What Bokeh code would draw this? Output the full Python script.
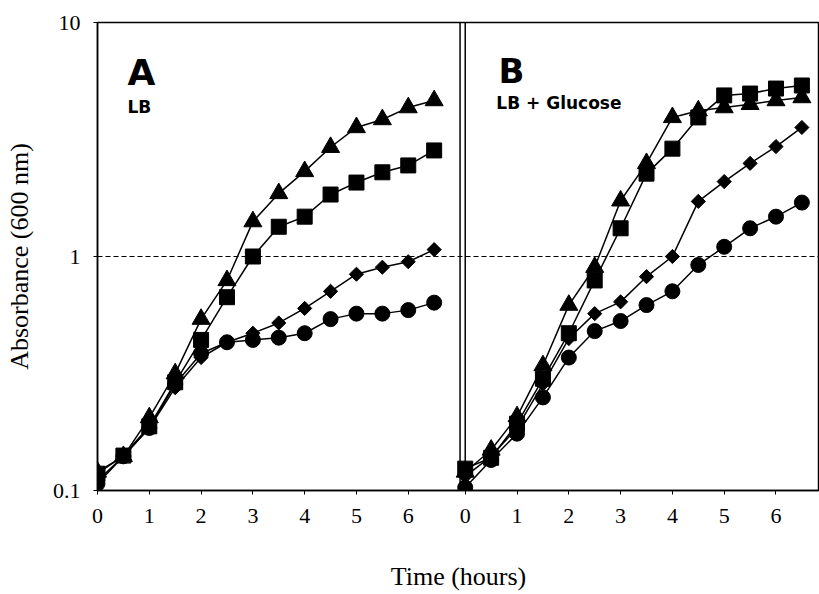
import numpy as np
from bokeh.plotting import figure
from bokeh.models import Range1d, FixedTicker, CustomJSTickFormatter, Span, Label
from bokeh.embed import file_html
from bokeh.resources import INLINE

# ---------------- data ----------------
hours = [0, 0.5, 1, 1.5, 2, 2.5, 3, 3.5, 4, 4.5, 5, 5.5, 6, 6.5]

# Panel A: LB
tri_a = [0.12, 0.14, 0.205, 0.316, 0.54, 0.79, 1.41, 1.86, 2.31, 2.93, 3.56, 3.85, 4.33, 4.64]
sq_a = [0.118, 0.141, 0.188, 0.29, 0.44, 0.67, 1.0, 1.34, 1.48, 1.84, 2.07, 2.29, 2.45, 2.84]
dia_a = [0.11, 0.14, 0.185, 0.275, 0.37, 0.43, 0.47, 0.52, 0.60, 0.71, 0.84, 0.90, 0.95, 1.07]
circ_a = [0.107, 0.14, 0.185, 0.285, 0.385, 0.43, 0.44, 0.45, 0.47, 0.54, 0.57, 0.57, 0.59, 0.635]

# Panel B: LB + Glucose
tri_b = [0.12, 0.149, 0.207, 0.342, 0.62, 0.90, 1.73, 2.5, 3.93, 4.2, 4.33, 4.47, 4.64, 4.78]
sq_b = [0.124, 0.138, 0.193, 0.30, 0.47, 0.79, 1.32, 2.26, 2.89, 3.93, 4.88, 4.97, 5.22, 5.38]
dia_b = [0.115, 0.14, 0.185, 0.285, 0.446, 0.57, 0.64, 0.82, 1.0, 1.72, 2.09, 2.5, 2.95, 3.56]
circ_b = [0.103, 0.135, 0.175, 0.25, 0.37, 0.48, 0.53, 0.62, 0.71, 0.92, 1.1, 1.32, 1.48, 1.70]

hour_ticks = [0, 1, 2, 3, 4, 5, 6]
abs_ticks = [0.1, 1, 10]
title_a, medium_a = "A", "LB"
title_b, medium_b = "B", "LB + Glucose"
y_label = "Absorbance (600 nm)"
x_label = "Time (hours)"

# ---------------- layout constants ----------------
A_END = 7.0      # right edge of panel A (hours)
B_OFF = 7.10     # start of panel B in panel-A hour units
X_END = 13.94    # right edge of the whole frame in panel-A units

SERIF = "Liberation Serif"
SANS = "DejaVu Sans"

p = figure(width=819, height=594, y_axis_type="log",
           x_range=Range1d(0, X_END), y_range=Range1d(0.1, 10),
           output_backend="svg", toolbar_location=None,
           min_border_left=97, min_border_right=0,
           min_border_top=22, min_border_bottom=104)
p.extra_x_ranges = {"b": Range1d(-B_OFF, X_END - B_OFF)}

p.xgrid.visible = False
p.ygrid.visible = False
p.outline_line_color = "black"
p.outline_line_width = 1.5
p.background_fill_color = "white"
p.border_fill_color = "white"

# x axis (shared line, two sets of tick labels)
p.xaxis.ticker = FixedTicker(ticks=hour_ticks + [B_OFF + t for t in hour_ticks])
p.xaxis.formatter = CustomJSTickFormatter(args=dict(off=B_OFF), code="""
    const v = tick > off - 0.5 ? tick - off : tick;
    return String(Math.round(v));
""")
for ax in (p.xaxis[0], p.yaxis[0]):
    ax.major_label_text_font = SERIF
    ax.major_label_text_font_size = "22px"
    ax.major_label_text_color = "black"
    ax.major_tick_out = 4
    ax.major_tick_in = 0
    ax.minor_tick_out = 0
    ax.minor_tick_in = 0
    ax.axis_line_width = 1.5
    ax.axis_line_color = "black"
    ax.major_tick_line_color = "black"
    ax.axis_label_text_font = SERIF
    ax.axis_label_text_font_size = "26px"
    ax.axis_label_text_font_style = "normal"
    ax.axis_label_text_color = "black"
p.xaxis.major_label_standoff = 14
p.xaxis.axis_label = x_label
p.xaxis.axis_label_standoff = 36

p.yaxis.ticker = FixedTicker(ticks=abs_ticks)
p.yaxis.formatter = CustomJSTickFormatter(code="return String(tick);")
p.yaxis.major_label_standoff = 13
p.yaxis.axis_label = y_label
p.yaxis.axis_label_standoff = 16

# reference line at 1 and panel separators
p.add_layout(Span(location=1, dimension="width", line_dash="5 3",
                  line_width=1, line_color="black"))
p.add_layout(Span(location=A_END, dimension="height", line_width=1.5, line_color="black"))
p.add_layout(Span(location=B_OFF, dimension="height", line_width=1.5, line_color="black"))

def series(x, y, marker, size, rname="default", angle=0.0):
    p.line(x, y, line_color="black", line_width=1.5, x_range_name=rname)
    p.scatter(x, y, marker=marker, size=size, angle=angle, fill_color="black",
              line_color="black", x_range_name=rname)

for rname, tri, sq, dia, circ in (("default", tri_a, sq_a, dia_a, circ_a),
                                  ("b", tri_b, sq_b, dia_b, circ_b)):
    series(hours, circ, "circle", 15, rname)
    series(hours, dia, "square", 10, rname, angle=np.pi / 4)
    series(hours, sq, "square", 15, rname)
    series(hours, tri, "triangle", 18, rname)

# panel titles
p.add_layout(Label(x=0.58, y=6.12, text=title_a, text_font=SANS, text_font_style="bold",
                   text_font_size="36px", text_baseline="alphabetic", text_color="black"))
p.add_layout(Label(x=0.58, y=4.35, text=medium_a, text_font=SANS, text_font_style="bold",
                   text_font_size="17px", text_baseline="alphabetic", text_color="black"))
p.add_layout(Label(x=0.64, y=6.2, text=title_b, x_range_name="b", text_font=SANS,
                   text_font_style="bold", text_font_size="34px",
                   text_baseline="alphabetic", text_color="black"))
p.add_layout(Label(x=0.60, y=4.55, text=medium_b, x_range_name="b", text_font=SANS,
                   text_font_style="bold", text_font_size="17px",
                   text_baseline="alphabetic", text_color="black"))

open("out.html", "w").write(file_html(p, INLINE))
